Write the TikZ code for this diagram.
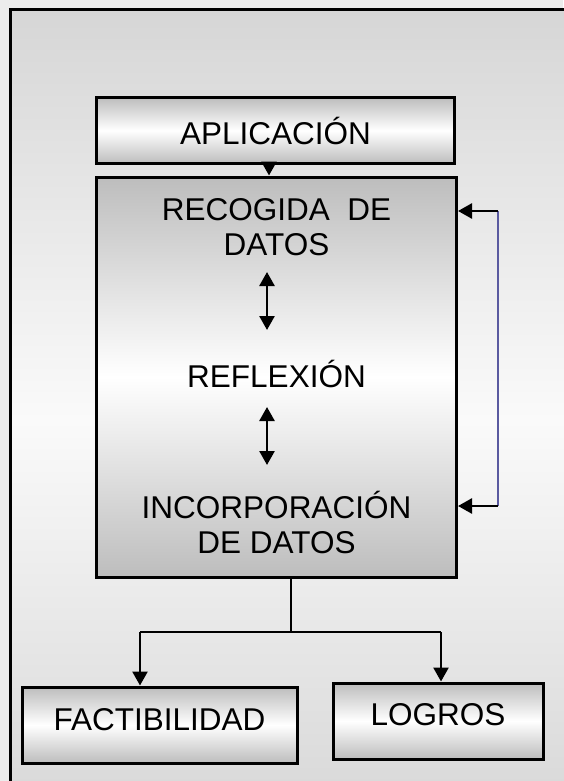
\documentclass[tikz,border=0pt]{standalone}
\usepackage{fontspec}
\setmainfont{Liberation Sans}
\usetikzlibrary{arrows.meta}
\definecolor{pageBg}{HTML}{ECECEC}
\definecolor{frameEdge}{HTML}{D6D6D6}
\definecolor{frameMid}{HTML}{FAFAFA}
\definecolor{boxEdge}{HTML}{BDBDBD}
\definecolor{fbBlue}{HTML}{5A5AA0}
\begin{document}
\begin{tikzpicture}[x=1pt,y=-1pt,
  gbox/.style={draw=black,line width=3pt,top color=boxEdge,bottom color=boxEdge,middle color=white,inner sep=0pt},
  lbl/.style={font=\fontsize{31.5}{35}\selectfont,align=center,inner sep=0pt},
  conn/.style={line width=2.6pt,draw=black},
  arr/.style={conn,-{Triangle[width=15pt,length=14pt]}},
  darr/.style={conn,{Triangle[width=15pt,length=14pt]}-{Triangle[width=15pt,length=14pt]}},
  fbline/.style={line width=2.4pt,draw=fbBlue}
]
\useasboundingbox (0,0) rectangle (563,781);
\fill[pageBg] (0,0) rectangle (563,781);
\draw[line width=3pt,top color=frameEdge,bottom color=frameEdge,middle color=frameMid] (10,10) rectangle (600,830);

% boxes
\node[gbox,minimum width=358pt,minimum height=66pt] (apl) at (275.5,130.5) {};
\node[lbl] (aplt) at (275.5,131) {APLICACIÓN};
\node[gbox,minimum width=360pt,minimum height=400pt] (big) at (276.5,377) {};
\node[lbl] (rec) at (276.5,227) {RECOGIDA~ DE\\DATOS};
\node[lbl] (ref) at (276.5,374) {REFLEXIÓN};
\node[lbl] (inc) at (276.5,522) {INCORPORACIÓN\\DE DATOS};
\node[gbox,minimum width=275pt,minimum height=76pt] (fact) at (159.5,725) {};
\node[lbl] (factt) at (159.5,720) {FACTIBILIDAD};
\node[gbox,minimum width=210pt,minimum height=76pt] (logr) at (438,721) {};
\node[lbl] (logrt) at (438,715) {LOGROS};

% top arrow
\coordinate (ax) at (269,0);
\draw[arr] (apl.south -| ax) -- (big.north -| ax);

% inner double arrows
\coordinate (d1a) at (267,272);
\coordinate (d1b) at (267,330);
\coordinate (d2a) at (267,407);
\coordinate (d2b) at (267,465);
\draw[darr] (d1a) -- (d1b);
\draw[darr] (d2a) -- (d2b);

% feedback loop
\coordinate (fbT) at (498,211);
\coordinate (fbB) at (498,506);
\draw[fbline] (fbT) -- (fbB);
\draw[arr] (fbT) -- (big.east |- fbT);
\draw[arr] (fbB) -- (big.east |- fbB);

% bottom split
\coordinate (sp) at (291,632);
\coordinate (fa) at (140,632);
\coordinate (la) at (441,632);
\draw[conn] (big.south -| sp) -- (sp);
\draw[conn] (fa) -- (la);
\draw[arr] (fa) -- (fa |- fact.north);
\draw[arr] (la) -- (la |- logr.north);
\end{tikzpicture}
\end{document}
